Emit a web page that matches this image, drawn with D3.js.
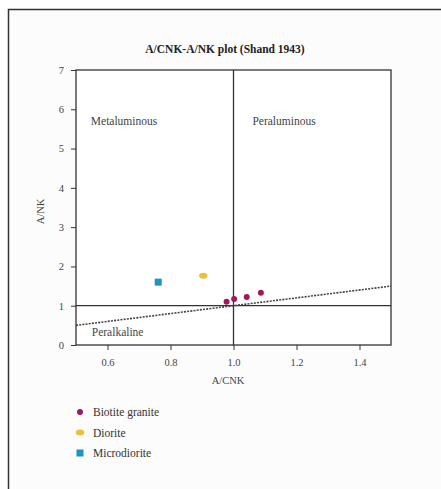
<!DOCTYPE html>
<html>
<head>
<meta charset="utf-8">
<script src="https://cdn.jsdelivr.net/npm/d3@7"></script>
<style>
  body { margin: 0; background: #fff; }
  svg { display: block; font-family: "Liberation Serif", "DejaVu Serif", serif; }
  .axis text { font-size: 10.5px; fill: #444; font-family: "Liberation Serif", serif; }
  .axis path, .axis line { stroke: #333; }
</style>
</head>
<body>
<svg class="chart"></svg>
<script>
var width = 441,
	height = 489;

var xTicks = [0.6, 0.8, 1.0, 1.2, 1.4];
var yTicks = [0, 1, 2, 3, 4, 5, 6, 7];

var seriesNames = ["Biotite granite", "Diorite", "Microdiorite"];
var seriesColors = ["#a3165c", "#e9c23a", "#1e94c4"];

var graniteACNK = [0.978, 1.002, 1.042, 1.087];
var graniteANK = [1.10, 1.17, 1.22, 1.33];
var dioriteACNK = [0.904];
var dioriteANK = [1.76];
var microACNK = [0.761];
var microANK = [1.60];

// Shand boundary A/NK = A/CNK
var boundaryACNK = [0.5, 1.5];

var x = d3.scaleLinear().domain([0.5, 1.5]).range([76, 391]);
var y = d3.scaleLinear().domain([0, 7]).range([345, 70]);

var svg = d3.select(".chart")
	.attr("width", width)
	.attr("height", height);

// outer frame
svg.append("rect")
	.attr("x", 8.5).attr("y", 9.5)
	.attr("width", 440).attr("height", 490)
	.attr("fill", "#fcfcfc")
	.attr("stroke", "#333")
	.attr("stroke-width", 1.5);

svg.append("text")
	.attr("x", 225).attr("y", 53)
	.attr("text-anchor", "middle")
	.attr("font-size", 11.5)
	.attr("font-weight", "bold")
	.attr("fill", "#222")
	.text("A/CNK-A/NK plot (Shand 1943)");

// plot box
svg.append("rect")
	.attr("x", x(0.5)).attr("y", y(7))
	.attr("width", x(1.5) - x(0.5)).attr("height", y(0) - y(7))
	.attr("fill", "#fff")
	.attr("stroke", "#333")
	.attr("stroke-width", 1.3);

svg.append("g")
	.attr("class", "axis")
	.attr("transform", "translate(0," + y(0) + ")")
	.call(d3.axisBottom(x).tickValues(xTicks).tickFormat(d3.format(".1f")).tickSize(5).tickPadding(9))
	.call(function(g) { g.select(".domain").remove(); });

svg.append("g")
	.attr("class", "axis")
	.attr("transform", "translate(" + x(0.5) + ",0)")
	.call(d3.axisLeft(y).tickValues(yTicks).tickFormat(d3.format("d")).tickSize(5).tickPadding(7))
	.call(function(g) { g.select(".domain").remove(); });

svg.append("text")
	.attr("x", 228).attr("y", 384)
	.attr("text-anchor", "middle")
	.attr("font-size", 10.5)
	.attr("fill", "#444")
	.text("A/CNK");

svg.append("text")
	.attr("transform", "translate(44," + y(3.4) + ") rotate(-90)")
	.attr("text-anchor", "middle")
	.attr("font-size", 10.5)
	.attr("fill", "#444")
	.text("A/NK");

// dividers
svg.append("line")
	.attr("x1", x(1)).attr("x2", x(1))
	.attr("y1", y(7)).attr("y2", y(0))
	.attr("stroke", "#333").attr("stroke-width", 1.3);
svg.append("line")
	.attr("x1", x(0.5)).attr("x2", x(1.5))
	.attr("y1", y(1)).attr("y2", y(1))
	.attr("stroke", "#333").attr("stroke-width", 1.3);
svg.append("line")
	.attr("x1", x(boundaryACNK[0])).attr("x2", x(boundaryACNK[1]))
	.attr("y1", y(boundaryACNK[0])).attr("y2", y(boundaryACNK[1]))
	.attr("stroke", "#444").attr("stroke-width", 1.6)
	.attr("stroke-dasharray", "2,1.2");

var regions = [
	{ label: "Metaluminous", ax: 0.547, ay: 5.6 },
	{ label: "Peraluminous", ax: 1.06, ay: 5.6 },
	{ label: "Peralkaline", ax: 0.55, ay: 0.22 }
];
svg.selectAll(".region")
	.data(regions)
  .enter().append("text")
	.attr("class", "region")
	.attr("x", function(d) { return x(d.ax); })
	.attr("y", function(d) { return y(d.ay); })
	.attr("font-size", 11.5)
	.attr("fill", "#444")
	.text(function(d) { return d.label; });

// data
svg.selectAll(".granite")
	.data(graniteACNK)
  .enter().append("path")
	.attr("class", "granite")
	.attr("transform", function(d, i) { return "translate(" + x(d) + "," + y(graniteANK[i]) + ")"; })
	.attr("d", d3.symbol().type(d3.symbolCircle).size(28))
	.attr("fill", seriesColors[0]);

svg.selectAll(".diorite")
	.data(dioriteACNK)
  .enter().append("ellipse")
	.attr("class", "diorite")
	.attr("cx", function(d) { return x(d); })
	.attr("cy", function(d, i) { return y(dioriteANK[i]); })
	.attr("rx", 4.2).attr("ry", 3)
	.attr("fill", seriesColors[1]);

svg.selectAll(".micro")
	.data(microACNK)
  .enter().append("rect")
	.attr("class", "micro")
	.attr("x", function(d) { return x(d) - 3.5; })
	.attr("y", function(d, i) { return y(microANK[i]) - 3.5; })
	.attr("width", 7).attr("height", 7)
	.attr("fill", seriesColors[2]);

// legend
var legend = svg.selectAll(".legend")
	.data(seriesNames)
  .enter().append("g")
	.attr("class", "legend")
	.attr("transform", function(d, i) { return "translate(80," + (412 + i * 20.5) + ")"; });

legend.each(function(d, i) {
	var g = d3.select(this);
	if (i === 0) {
		g.append("path").attr("d", d3.symbol().type(d3.symbolCircle).size(28)).attr("fill", seriesColors[0]);
	} else if (i === 1) {
		g.append("ellipse").attr("rx", 4.2).attr("ry", 3).attr("fill", seriesColors[1]);
	} else {
		g.append("rect").attr("x", -3.5).attr("y", -3.5).attr("width", 7).attr("height", 7).attr("fill", seriesColors[2]);
	}
});

legend.append("text")
	.attr("x", 13)
	.attr("dy", ".35em")
	.attr("font-size", 11.5)
	.attr("fill", "#333")
	.text(function(d) { return d; });
</script>
</body>
</html>
